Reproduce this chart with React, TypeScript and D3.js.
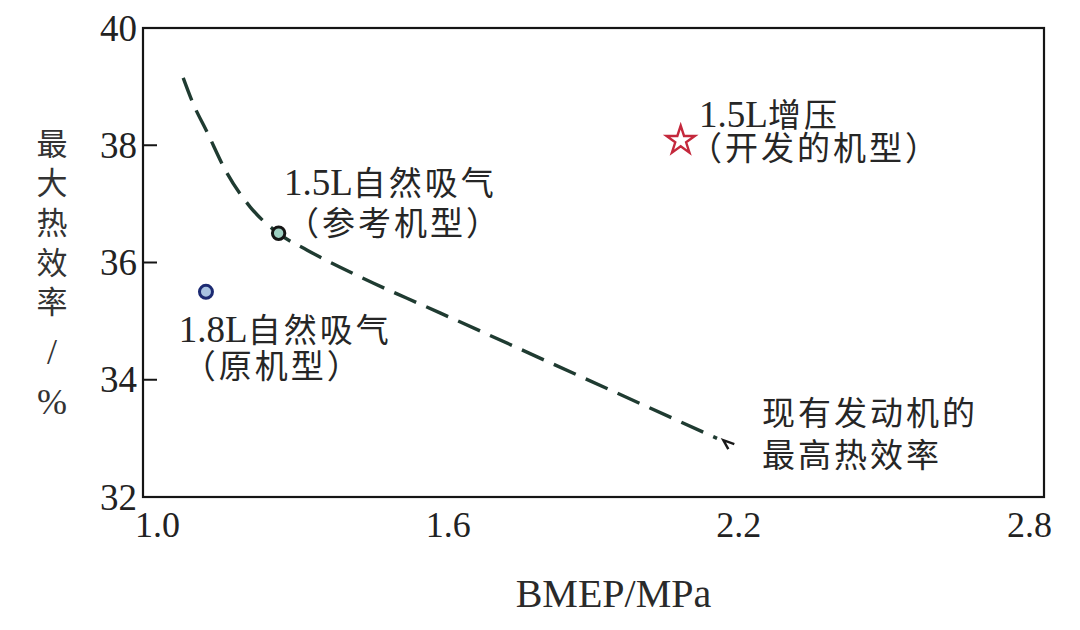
import * as d3 from 'd3';

const WIDTH = 1080;
const HEIGHT = 630;
const margin = { top: 28, right: 36, bottom: 133, left: 143 };

const X_TICKS = [1.0, 1.6, 2.2, 2.8];
const Y_TICKS = [32, 34, 36, 38, 40];

// envelope: best thermal efficiency of existing engines
const ENVELOPE_BMEP = [1.053, 1.073, 1.102, 1.143, 1.191, 1.249, 1.309, 1.377, 1.445, 1.515, 1.583, 1.872, 2.155];
const ENVELOPE_EFF = [39.15, 38.72, 38.23, 37.53, 36.95, 36.5, 36.21, 35.92, 35.65, 35.39, 35.14, 34.06, 33.0];
const ARROW_TIP = [2.168, 32.97];

const ENGINES = ['1.8L自然吸气', '1.5L自然吸气', '1.5L增压'];
const ENGINE_BMEP = [1.1, 1.25, 2.08];
const ENGINE_EFF = [35.5, 36.5, 38.08];

// annotation text: anchor in data units, second line offset in px
const LABELS = [
  { x: 1.261, y: 37.15, lines: ['1.5L自然吸气', '（参考机型）'], dx2: 2, dy2: 40 },
  { x: 1.044, y: 34.64, lines: ['1.8L自然吸气', '（原机型）'], dx2: 4, dy2: 36 },
  { x: 2.118, y: 38.31, lines: ['1.5L增压', '（开发的机型）'], dx2: -10, dy2: 33 },
  { x: 2.248, y: 33.23, lines: ['现有发动机的', '最高热效率'], dx2: 0, dy2: 42 },
];

const Y_TITLE = ['最', '大', '热', '效', '率', '/', '%'];
const X_TITLE = 'BMEP/MPa';

const FONT = '"Liberation Serif", "Noto Sans CJK SC", serif';

// latin prefix in serif at full size, CJK rest slightly smaller and spaced out
function Label({ text, x, y }: { text: string; x: number; y: number }) {
  const m = text.match(/^[0-9.A-Za-z]+/);
  const latin = m ? m[0] : '';
  const rest = text.slice(latin.length);
  return (
    <text x={x} y={y} fill="#262626">
      {latin && <tspan fontSize={37}>{latin}</tspan>}
      <tspan fontSize={33} letterSpacing={3}>{rest}</tspan>
    </text>
  );
}

export default function App() {
  const x = d3.scaleLinear().domain([0.97, 2.83]).range([margin.left, WIDTH - margin.right]);
  const y = d3.scaleLinear().domain([32, 40]).range([HEIGHT - margin.bottom, margin.top]);
  const x0 = x.range()[0], x1 = x.range()[1];
  const y0 = y.range()[0], y1 = y.range()[1];

  const pts: [number, number][] = ENVELOPE_BMEP.map((b, i) => [b, ENVELOPE_EFF[i]]);
  const line = d3.line<[number, number]>()
    .x(d => x(d[0]))
    .y(d => y(d[1]))
    .curve(d3.curveMonotoneX);

  const tipX = x(ARROW_TIP[0]);
  const tipY = y(ARROW_TIP[1]);
  const star = d3.symbol(d3.symbolStar, 250)();

  // y title: CJK stacked, then "/" and "%"
  const yTitlePos = [144, 183, 223, 263, 302, 351, 401];

  return (
    <svg width={WIDTH} height={HEIGHT} style={{ position: 'absolute', left: 0, top: 0, background: '#fff' }}
      fontFamily={FONT}>
      {/* frame */}
      <rect x={x0} y={y1} width={x1 - x0} height={y0 - y1} fill="none" stroke="#151515" strokeWidth={2.2} />

      {/* y ticks inside */}
      {Y_TICKS.filter(t => t !== 32 && t !== 40).map(t => (
        <line key={t} x1={x0} x2={x0 + 14} y1={y(t)} y2={y(t)} stroke="#151515" strokeWidth={2} />
      ))}
      {Y_TICKS.map(t => (
        <text key={t} x={x0 - 6} y={y(t)} dy="0.34em" textAnchor="end" fontSize={37} fill="#222">{t}</text>
      ))}
      {X_TICKS.map(t => (
        <text key={t} x={x(t)} y={y0 + 40} textAnchor="middle" fontSize={36} fill="#222">{t.toFixed(1)}</text>
      ))}

      {/* axis titles */}
      <text x={(x0 + x1) / 2 + 20} y={607} textAnchor="middle" fontSize={40} fill="#2a2a2a">{X_TITLE}</text>
      {Y_TITLE.map((c, i) => (
        <text key={i} x={52} y={yTitlePos[i]} dy="0.36em" textAnchor="middle"
          fontSize={i < 5 ? 31 : 36} fill="#333">{c}</text>
      ))}

      {/* envelope */}
      <path d={line(pts) ?? ''} fill="none" stroke="#1f3b31" strokeWidth={3.4}
        strokeDasharray="24,11" />
      <path d={`M${tipX + 11},${tipY + 4}L${tipX},${tipY}L${tipX + 5},${tipY + 9}`}
        fill="none" stroke="#1a1a1a" strokeWidth={2.4} />

      {/* engines */}
      <circle cx={x(ENGINE_BMEP[0])} cy={y(ENGINE_EFF[0])} r={6.5} fill="#a9c3e2" stroke="#1c2a72" strokeWidth={3} />
      <circle cx={x(ENGINE_BMEP[1])} cy={y(ENGINE_EFF[1])} r={6.2} fill="#9fd0c2" stroke="#151515" strokeWidth={3} />
      <path d={star ?? ''} transform={`translate(${x(ENGINE_BMEP[2])},${y(ENGINE_EFF[2])})`}
        fill="#fff" stroke="#c4283c" strokeWidth={2.4} strokeLinejoin="miter">
        <title>{ENGINES[2]}</title>
      </path>

      {/* annotations */}
      {LABELS.map((l, i) => (
        <g key={i}>
          <Label text={l.lines[0]} x={x(l.x)} y={y(l.y)} />
          <Label text={l.lines[1]} x={x(l.x) + l.dx2} y={y(l.y) + l.dy2} />
        </g>
      ))}
    </svg>
  );
}
